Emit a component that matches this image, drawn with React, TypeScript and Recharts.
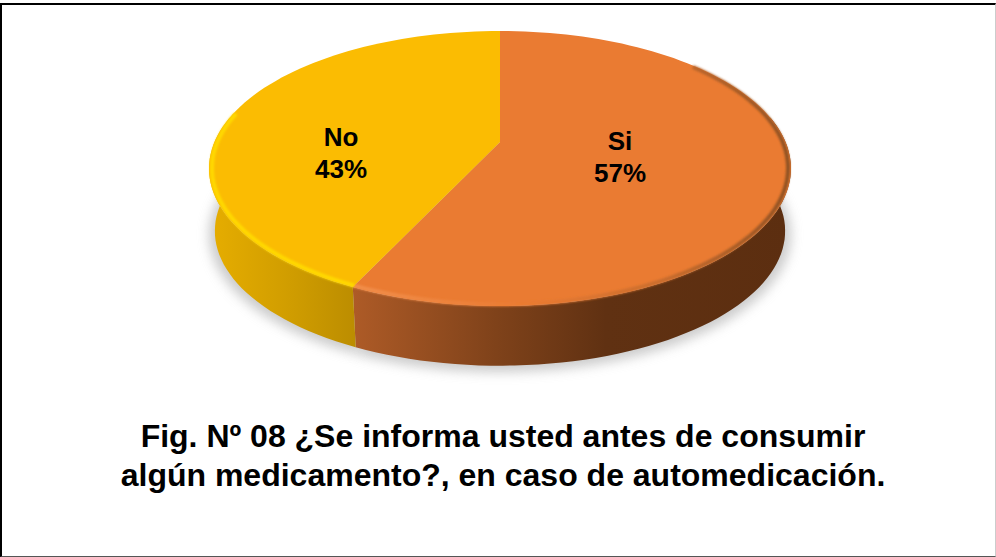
import { PieChart, Pie } from "recharts";

const categories = ["Si", "No"];
const shares = [57, 43];

const tableData = categories.map((name, i) => ({ name, value: shares[i] }));

const TOP_COLORS = ["#ea7b32", "#fbbc02"];
const SIDE_FILLS = ["url(#sideSi)", "url(#sideNo)"];
const RIM_STROKES = ["url(#rimSi)", "#ffd900"];
// visible part of the bevel, degrees clockwise from 12 o'clock
const RIM_RANGES = [[50, 360], [0, 283]];
const LABEL_SPOTS = [{ x: 620, y: 155.5 }, { x: 341, y: 152 }];

// the pie is tilted: project the unit circle, with the centre above the middle of the rim
const CX = 500;
const CY = 142;
const A = 285.5;
const B = 132.4;
const K = -0.1927;
// silhouette of the tilted disc, the wall is only seen between these two angles
const WALL_FROM = 79;
const WALL_TO = 281;

function project(deg: number, scale = 1, dy = 0) {
  const t = (deg * Math.PI) / 180;
  const u = Math.sin(t);
  const v = -Math.cos(t);
  const w = 1 + K * v;
  return [CX + (scale * A * u) / w, CY + dy + (scale * B * v) / w];
}

function rimPoints(from: number, to: number, scale = 1, dy = 0) {
  const out: number[][] = [];
  const steps = Math.max(2, Math.ceil(Math.abs(to - from) / 2));
  for (let i = 0; i <= steps; i++) {
    out.push(project(from + ((to - from) * i) / steps, scale, dy));
  }
  return out;
}

const toPath = (pts: number[][]) =>
  pts.map((p, i) => `${i ? "L" : "M"}${p[0].toFixed(1)} ${p[1].toFixed(1)}`).join(" ");

// recharts angles run counter-clockwise from 3 o'clock
const clockwise = (props: any) => [90 - props.startAngle, 90 - props.endAngle];

function ShadowShape(props: any) {
  const [from, to] = clockwise(props);
  return (
    <path
      d={toPath(rimPoints(from, to, 1, 66)) + ` L${CX} ${CY + 66} Z`}
      fill="#a8a8a8"
      opacity={0.6}
      filter="url(#softShadow)"
    />
  );
}

function SideShape(props: any) {
  const [from, to] = clockwise(props);
  const a = Math.max(from, WALL_FROM);
  const b = Math.min(to, WALL_TO);
  const top = rimPoints(a, b);
  const bottom = rimPoints(b, a, 0.98, 63);
  return <path d={toPath([...top, ...bottom]) + " Z"} fill={SIDE_FILLS[props.index]} />;
}

function TopShape(props: any) {
  const [from, to] = clockwise(props);
  const [lo, hi] = RIM_RANGES[props.index];
  const rim = rimPoints(Math.max(from, lo), Math.min(to, hi), 0.99);
  return (
    <g>
      <path d={`M${CX} ${CY} ` + toPath(rimPoints(from, to)).replace("M", "L") + " Z"} fill={TOP_COLORS[props.index]} />
      <path d={toPath(rim)} fill="none" stroke={RIM_STROKES[props.index]} strokeWidth={4} filter="url(#softEdge)" />
    </g>
  );
}

function renderLabel(props: any) {
  const spot = LABEL_SPOTS[props.index];
  return (
    <text x={spot.x} y={spot.y} textAnchor="middle" fontFamily="Liberation Sans" fontWeight={700} fontSize={26} fill="#000">
      <tspan x={spot.x} dy={-6}>{props.name}</tspan>
      <tspan x={spot.x} dy={32}>{`${props.value}%`}</tspan>
    </text>
  );
}

export default function App() {
  return (
    <div
      style={{
        position: "absolute",
        left: 0,
        top: 3,
        width: 996,
        height: 554,
        background: "#fff",
        boxSizing: "border-box",
        borderTop: "2px solid #000",
        borderLeft: "2px solid #000",
        borderRight: "1px solid #ccc",
        borderBottom: "1px solid #555",
        overflow: "hidden",
      }}
    >
      <div style={{ position: "absolute", left: -2, top: -5 }}>
        <PieChart width={996} height={557} margin={{ top: 0, right: 0, bottom: 0, left: 0 }}>
          <defs>
            <linearGradient id="sideNo" gradientUnits="userSpaceOnUse" x1="210" y1="0" x2="355" y2="0">
              <stop offset="0%" stopColor="#e6ad00" />
              <stop offset="55%" stopColor="#d09d00" />
              <stop offset="100%" stopColor="#bc8d00" />
            </linearGradient>
            <linearGradient id="sideSi" gradientUnits="userSpaceOnUse" x1="352" y1="0" x2="790" y2="0">
              <stop offset="0%" stopColor="#ae5b27" />
              <stop offset="33%" stopColor="#7f421a" />
              <stop offset="58%" stopColor="#603112" />
              <stop offset="100%" stopColor="#5c2e10" />
            </linearGradient>
            <linearGradient id="rimSi" gradientUnits="userSpaceOnUse" x1="350" y1="0" x2="791" y2="0">
              <stop offset="0%" stopColor="#f28f4c" />
              <stop offset="40%" stopColor="#ea7b32" />
              <stop offset="70%" stopColor="#c96d2e" />
              <stop offset="100%" stopColor="#8f5123" />
            </linearGradient>
            <filter id="softShadow" x="-10%" y="-10%" width="120%" height="120%">
              <feGaussianBlur stdDeviation="6" />
            </filter>
            <filter id="softEdge" x="-5%" y="-5%" width="110%" height="110%">
              <feGaussianBlur stdDeviation="0.8" />
            </filter>
          </defs>
          {[ShadowShape, SideShape, TopShape].map((shape, i) => (
            <Pie
              key={i}
              data={tableData}
              dataKey="value"
              nameKey="name"
              cx={CX}
              cy={CY}
              outerRadius={130}
              startAngle={90}
              endAngle={-270}
              shape={shape}
              stroke="none"
              legendType="none"
              label={shape === TopShape ? renderLabel : false}
              labelLine={false}
              isAnimationActive={false}
            />
          ))}
        </PieChart>
        <div
          style={{
            position: "absolute",
            left: 0,
            top: 417,
            width: 1006,
            textAlign: "center",
            fontFamily: "Liberation Sans",
            fontWeight: 700,
            fontSize: 32,
            lineHeight: "39px",
            color: "#000",
          }}
        >
          Fig. Nº 08 ¿Se informa usted antes de consumir
          <br />
          algún medicamento?, en caso de automedicación.
        </div>
      </div>
    </div>
  );
}
